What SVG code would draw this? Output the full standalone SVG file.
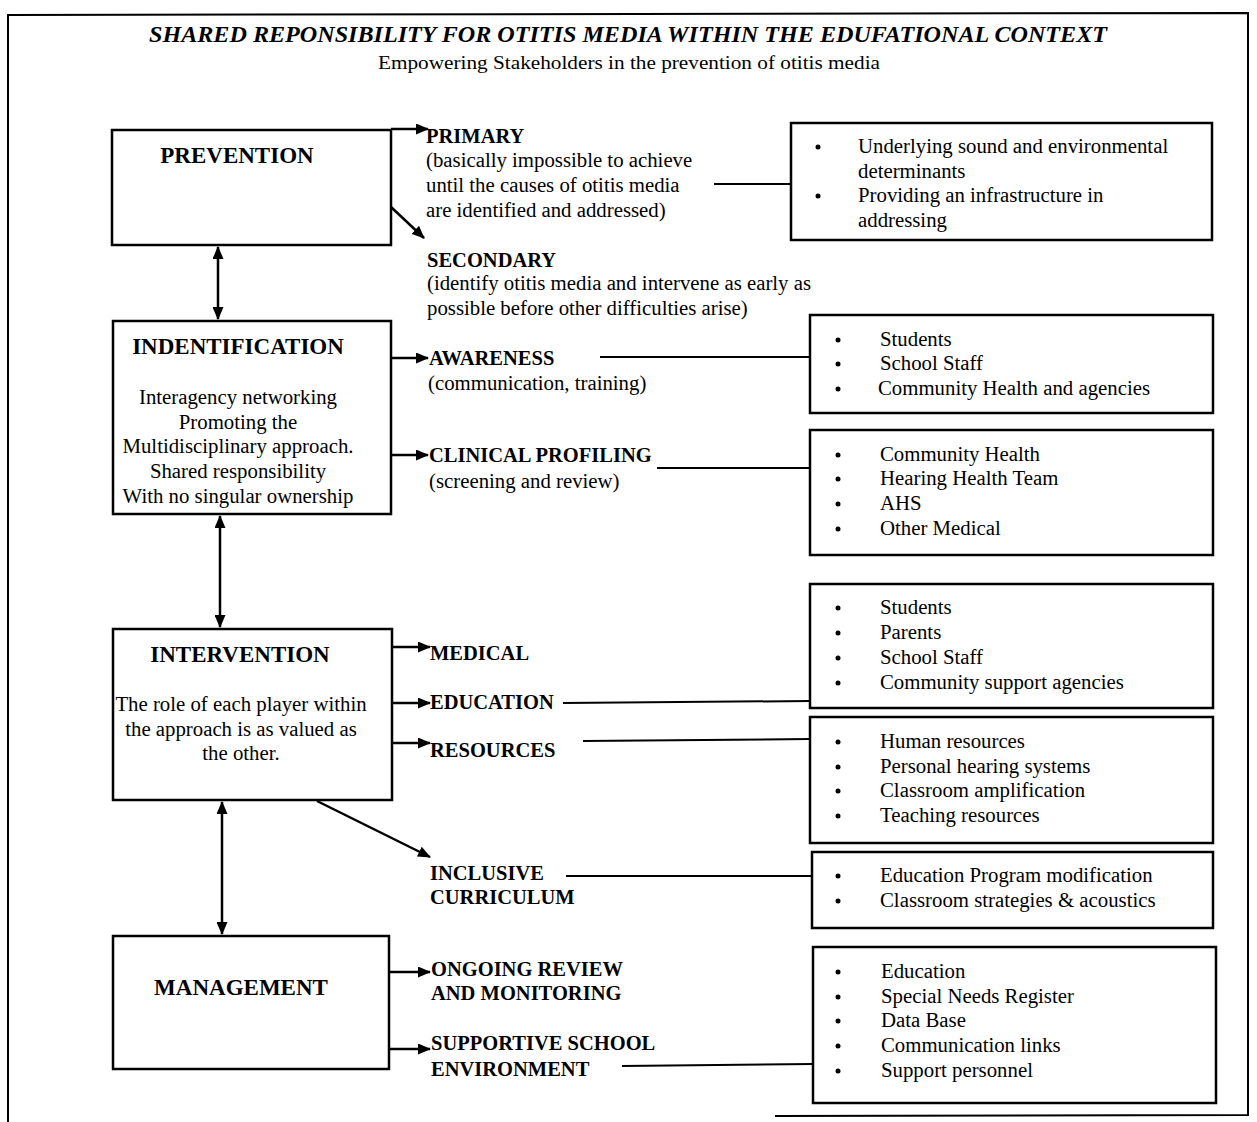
<svg xmlns="http://www.w3.org/2000/svg" width="1257" height="1122" viewBox="0 0 1257 1122">
<defs>
<marker id="ah" viewBox="0 0 13 11" refX="12" refY="5.5" markerWidth="13" markerHeight="11" markerUnits="userSpaceOnUse" orient="auto-start-reverse">
<path d="M0,0 L13,5.5 L0,11 Z" fill="#000"/>
</marker>
</defs>
<style>
text{font-family:"Liberation Serif","Times New Roman",serif;fill:#000}
.t{font-size:23px;font-weight:bold;font-style:italic}
.st{font-size:19px}
.h{font-size:23px;font-weight:bold;text-anchor:middle}
.b{font-size:20.8px;text-anchor:middle}
.l{font-size:20.5px;font-weight:bold}
.r{font-size:20.8px}
.box{fill:#fff;stroke:#000;stroke-width:2.5}
.c{fill:none;stroke:#000;stroke-width:2}
.a{fill:none;stroke:#000;stroke-width:2.5;marker-end:url(#ah)}
.d{fill:none;stroke:#000;stroke-width:2.5;marker-end:url(#ah);marker-start:url(#ah)}
.bl{fill:#000}
</style>
<rect width="1257" height="1122" fill="#fff"/>
<path d="M8,1122 L8,15 L1248,13 L1248,1115 L775,1116" fill="none" stroke="#000" stroke-width="2"/>
<text class="t" x="628" y="42" text-anchor="middle" textLength="958" lengthAdjust="spacingAndGlyphs">SHARED REPONSIBILITY FOR OTITIS MEDIA WITHIN THE EDUFATIONAL CONTEXT</text>
<text class="st" x="629" y="69" text-anchor="middle" textLength="502" lengthAdjust="spacingAndGlyphs">Empowering Stakeholders in the prevention of otitis media</text>

<g id="connectors">
<path class="a" d="M391,129 L428,129"/>
<path class="a" d="M391,207 L424,238"/>
<path class="c" d="M714,184 L791,184"/>
<path class="d" d="M218,247 L218,319"/>
<path class="a" d="M391,358 L428,358"/>
<path class="c" d="M600,357 L810,357"/>
<path class="a" d="M391,455 L428,455"/>
<path class="c" d="M657,468 L810,468"/>
<path class="d" d="M220,516 L220,627"/>
<path class="a" d="M392,647 L430,647"/>
<path class="a" d="M392,703 L430,703"/>
<path class="c" d="M563,703 L810,701"/>
<path class="a" d="M392,743 L430,743"/>
<path class="c" d="M583,741 L810,739"/>
<path class="a" d="M317,801 L430,857"/>
<path class="c" d="M566,876 L812,876"/>
<path class="d" d="M222,802 L222,934"/>
<path class="a" d="M389,972 L430,972"/>
<path class="a" d="M389,1049 L430,1049"/>
<path class="c" d="M622,1066 L813,1064"/>
</g>

<g id="prevention">
<rect class="box" x="112" y="130" width="279" height="115"/>
<text class="h" x="237" y="163">PREVENTION</text>
</g>
<g id="primary">
<text class="l" x="426" y="143">PRIMARY</text>
<text class="r" x="426" y="167">(basically impossible to achieve</text>
<text class="r" x="426" y="192">until the causes of otitis media</text>
<text class="r" x="426" y="217">are identified and addressed)</text>
</g>
<g id="secondary">
<text class="l" x="427" y="267">SECONDARY</text>
<text class="r" x="427" y="290">(identify otitis media and intervene as early as</text>
<text class="r" x="427" y="315">possible before other difficulties arise)</text>
</g>
<g id="box-determinants">
<rect class="box" x="791" y="123" width="421" height="117"/>
<circle class="bl" cx="818" cy="147" r="2.5"/>
<circle class="bl" cx="818" cy="196" r="2.5"/>
<text class="r" x="858" y="153">Underlying sound and environmental</text>
<text class="r" x="858" y="178">determinants</text>
<text class="r" x="858" y="202">Providing an infrastructure in</text>
<text class="r" x="858" y="227">addressing</text>
</g>

<g id="identification">
<rect class="box" x="113" y="321" width="278" height="193"/>
<text class="h" x="238" y="354">INDENTIFICATION</text>
<text class="b" x="238" y="404">Interagency networking</text>
<text class="b" x="238" y="429">Promoting the</text>
<text class="b" x="238" y="453">Multidisciplinary approach.</text>
<text class="b" x="238" y="478">Shared responsibility</text>
<text class="b" x="238" y="503">With no singular ownership</text>
</g>
<g id="awareness">
<text class="l" x="429" y="365">AWARENESS</text>
<text class="r" x="428" y="390">(communication, training)</text>
</g>
<g id="box-awareness">
<rect class="box" x="810" y="315" width="403" height="98"/>
<circle class="bl" cx="838" cy="340" r="2.5"/>
<circle class="bl" cx="838" cy="364" r="2.5"/>
<circle class="bl" cx="838" cy="389" r="2.5"/>
<text class="r" x="880" y="346">Students</text>
<text class="r" x="880" y="370">School Staff</text>
<text class="r" x="878" y="395">Community Health and agencies</text>
</g>
<g id="clinical">
<text class="l" x="429" y="462">CLINICAL PROFILING</text>
<text class="r" x="429" y="488">(screening and review)</text>
</g>
<g id="box-clinical">
<rect class="box" x="810" y="430" width="403" height="125"/>
<circle class="bl" cx="838" cy="455" r="2.5"/>
<circle class="bl" cx="838" cy="479" r="2.5"/>
<circle class="bl" cx="838" cy="504" r="2.5"/>
<circle class="bl" cx="838" cy="529" r="2.5"/>
<text class="r" x="880" y="461">Community Health</text>
<text class="r" x="880" y="485">Hearing Health Team</text>
<text class="r" x="880" y="510">AHS</text>
<text class="r" x="880" y="535">Other Medical</text>
</g>

<g id="intervention">
<rect class="box" x="113" y="629" width="279" height="171"/>
<text class="h" x="240" y="662">INTERVENTION</text>
<text class="b" x="241" y="711">The role of each player within</text>
<text class="b" x="241" y="736">the approach is as valued as</text>
<text class="b" x="241" y="760">the other.</text>
</g>
<g id="medical"><text class="l" x="430" y="660">MEDICAL</text></g>
<g id="education"><text class="l" x="430" y="709">EDUCATION</text></g>
<g id="resources"><text class="l" x="430" y="757">RESOURCES</text></g>
<g id="inclusive">
<text class="l" x="430" y="880">INCLUSIVE</text>
<text class="l" x="430" y="904">CURRICULUM</text>
</g>
<g id="box-education">
<rect class="box" x="810" y="584" width="403" height="124"/>
<circle class="bl" cx="838" cy="608" r="2.5"/>
<circle class="bl" cx="838" cy="633" r="2.5"/>
<circle class="bl" cx="838" cy="658" r="2.5"/>
<circle class="bl" cx="838" cy="683" r="2.5"/>
<text class="r" x="880" y="614">Students</text>
<text class="r" x="880" y="639">Parents</text>
<text class="r" x="880" y="664">School Staff</text>
<text class="r" x="880" y="689">Community support agencies</text>
</g>
<g id="box-resources">
<rect class="box" x="810" y="717" width="403" height="126"/>
<circle class="bl" cx="838" cy="742" r="2.5"/>
<circle class="bl" cx="838" cy="767" r="2.5"/>
<circle class="bl" cx="838" cy="791" r="2.5"/>
<circle class="bl" cx="838" cy="816" r="2.5"/>
<text class="r" x="880" y="748">Human resources</text>
<text class="r" x="880" y="773">Personal hearing systems</text>
<text class="r" x="880" y="797">Classroom amplification</text>
<text class="r" x="880" y="822">Teaching resources</text>
</g>
<g id="box-curriculum">
<rect class="box" x="812" y="852" width="401" height="76"/>
<circle class="bl" cx="838" cy="876" r="2.5"/>
<circle class="bl" cx="838" cy="901" r="2.5"/>
<text class="r" x="880" y="882">Education Program modification</text>
<text class="r" x="880" y="907">Classroom strategies &amp; acoustics</text>
</g>

<g id="management">
<rect class="box" x="113" y="936" width="276" height="133"/>
<text class="h" x="241" y="995">MANAGEMENT</text>
</g>
<g id="ongoing">
<text class="l" x="431" y="976">ONGOING REVIEW</text>
<text class="l" x="431" y="1000">AND MONITORING</text>
</g>
<g id="supportive">
<text class="l" x="431" y="1050">SUPPORTIVE SCHOOL</text>
<text class="l" x="431" y="1076">ENVIRONMENT</text>
</g>
<g id="box-management">
<rect class="box" x="813" y="947" width="403" height="156"/>
<circle class="bl" cx="838" cy="972" r="2.5"/>
<circle class="bl" cx="838" cy="997" r="2.5"/>
<circle class="bl" cx="838" cy="1021" r="2.5"/>
<circle class="bl" cx="838" cy="1046" r="2.5"/>
<circle class="bl" cx="838" cy="1071" r="2.5"/>
<text class="r" x="881" y="978">Education</text>
<text class="r" x="881" y="1003">Special Needs Register</text>
<text class="r" x="881" y="1027">Data Base</text>
<text class="r" x="881" y="1052">Communication links</text>
<text class="r" x="881" y="1077">Support personnel</text>
</g>
</svg>
